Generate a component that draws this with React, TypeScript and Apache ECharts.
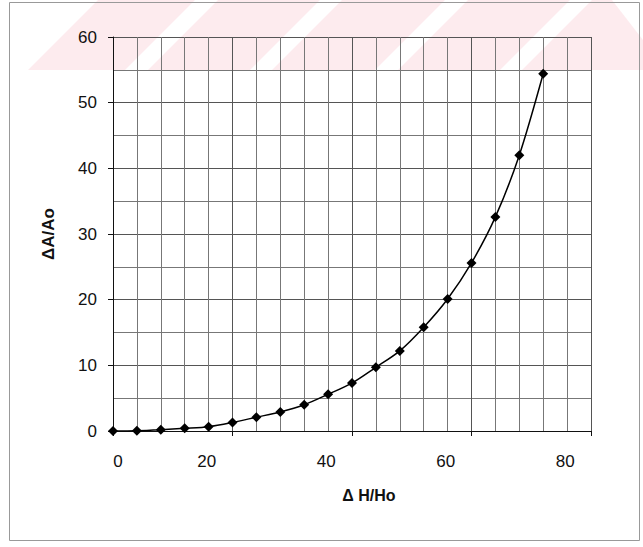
import React, { useEffect, useRef } from "react";
import * as echarts from "echarts";

// ΔH/Ho values (x) and ΔA/Ao values (y)
const xValues = [0, 4, 8, 12, 16, 20, 24, 28, 32, 36, 40, 44, 48, 52, 56, 60, 64, 68, 72];
const yValues = [0, 0.05, 0.2, 0.4, 0.65, 1.3, 2.1, 2.9, 4.0, 5.6, 7.3, 9.7, 12.2, 15.8, 20.1, 25.6, 32.6, 42.0, 54.4];

// tick labels as printed on the (scanned) figure
const xZeroLabel = [0];
const xTickLabels = [20, 40, 60, 80];
const yTickLabels = [0, 10, 20, 30, 40, 50, 60];

const FONT = '"Liberation Sans", Arial, sans-serif';
const PINK = "rgba(240,100,120,0.13)";

export default function App() {
  const ref = useRef<HTMLDivElement>(null);
  useEffect(() => {
    const chart = echarts.init(ref.current!, null, { renderer: "svg" });
    const data = xValues.map((x, i) => [x, yValues[i]]);
    const stripe = (b0: number, b1: number, shift: number) => ({
      type: "polygon",
      silent: true,
      z: -10,
      shape: { points: [[b0, 70], [b1, 70], [b1 + shift, 0], [b0 + shift, 0]] },
      style: { fill: PINK },
    });
    chart.setOption({
      animation: false,
      backgroundColor: "#fff",
      textStyle: { fontFamily: FONT },
      grid: { left: 113, top: 37, width: 478, height: 394, containLabel: false },
      xAxis: [
        {
          type: "value",
          min: 0,
          max: 80,
          interval: 20,
          axisLine: { show: true, lineStyle: { color: "#111", width: 1 } },
          axisTick: { show: true, length: 5, inside: false, lineStyle: { color: "#111" } },
          axisLabel: {
            customValues: xZeroLabel,
            fontSize: 17,
            color: "#111",
            margin: 22,
            padding: [0, 0, 0, 10],
            fontFamily: FONT,
          },
          splitLine: { show: true, lineStyle: { color: "#555", width: 1 } },
          minorTick: { show: false, splitNumber: 5 },
          minorSplitLine: { show: true, lineStyle: { color: "#777", width: 1 } },
        },
        {
          type: "value",
          position: "bottom",
          min: 4.3,
          max: 84.3,
          axisLine: { show: false },
          axisTick: { show: false },
          splitLine: { show: false },
          axisLabel: {
            customValues: xTickLabels,
            fontSize: 17,
            color: "#111",
            margin: 22,
            fontFamily: FONT,
          },
          name: "Δ H/Ho",
          nameLocation: "middle",
          nameGap: 56,
          nameTextStyle: {
            fontSize: 16,
            fontWeight: "bold",
            color: "#111",
            fontFamily: FONT,
            padding: [0, 0, 0, 34],
          },
        },
      ],
      yAxis: {
        type: "value",
        min: 0,
        max: 60,
        interval: 10,
        axisLine: { show: true, lineStyle: { color: "#111", width: 1 } },
        axisTick: { show: true, length: 5, inside: false, lineStyle: { color: "#111" } },
        axisLabel: {
          customValues: yTickLabels,
          fontSize: 17,
          color: "#111",
          margin: 16,
          fontFamily: FONT,
        },
        splitLine: { show: true, lineStyle: { color: "#555", width: 1 } },
        minorTick: { show: false, splitNumber: 2 },
        minorSplitLine: { show: true, lineStyle: { color: "#777", width: 1 } },
        name: "ΔA/Ao",
        nameLocation: "middle",
        nameGap: 56,
        nameTextStyle: { fontSize: 17, fontWeight: "bold", color: "#111", fontFamily: FONT },
      },
      series: [
        {
          type: "line",
          xAxisIndex: 0,
          data,
          smooth: 0.3,
          symbol: "diamond",
          symbolSize: 10,
          showSymbol: true,
          itemStyle: { color: "#000" },
          lineStyle: { color: "#000", width: 1.5 },
          z: 5,
        },
      ],
      graphic: [
        stripe(28, 125, 70),
        stripe(148, 250, 70),
        stripe(272, 375, 70),
        stripe(398, 500, 70),
        {
          type: "polygon",
          silent: true,
          z: -10,
          shape: { points: [[522, 70], [592, 0], [612, 0], [643, 40], [643, 70]] },
          style: { fill: PINK },
        },
        {
          type: "rect",
          silent: true,
          z: -5,
          shape: { x: 9.5, y: 2.5, width: 630, height: 538 },
          style: { fill: "none", stroke: "#999", lineWidth: 1 },
        },
      ],
    });
    return () => chart.dispose();
  }, []);
  return (
    <div
      ref={ref}
      style={{ position: "absolute", left: 0, top: 0, width: 643, height: 547, background: "#fff" }}
    />
  );
}
